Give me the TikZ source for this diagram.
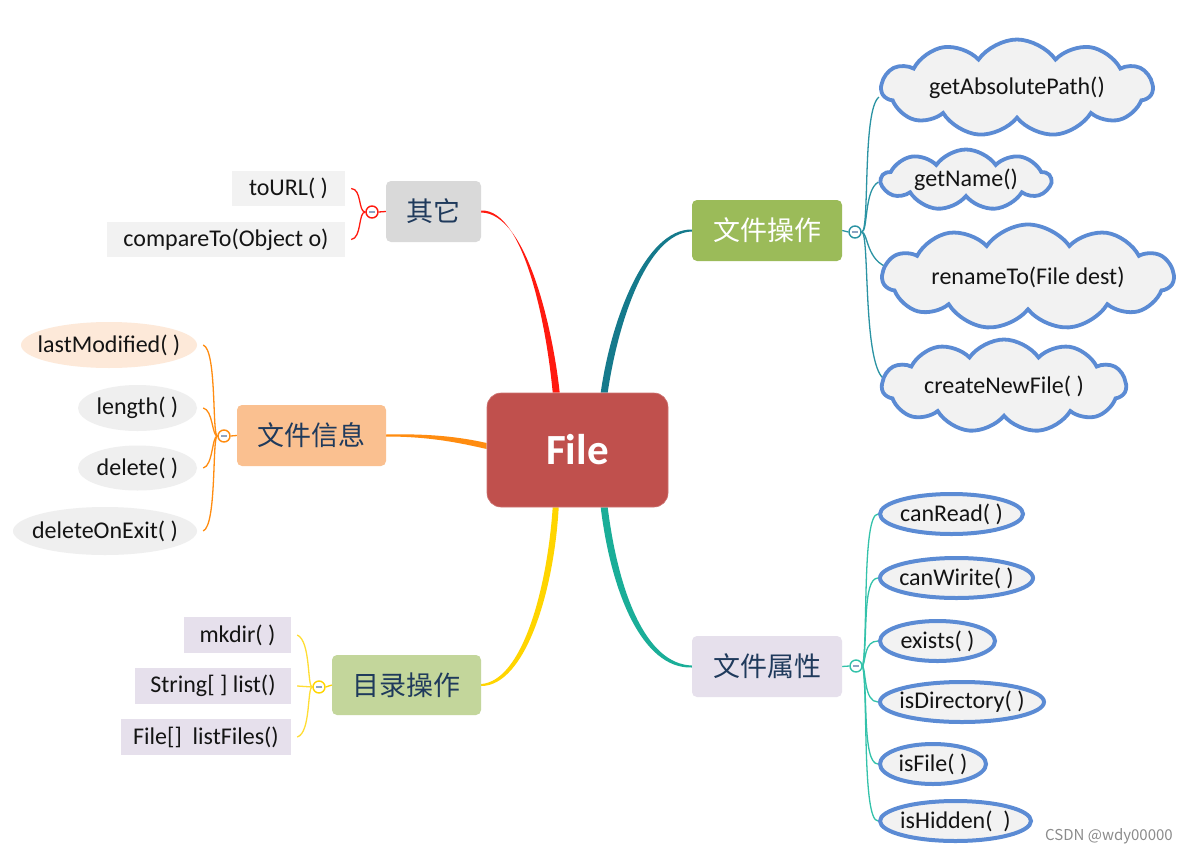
\documentclass[tikz,border=0pt]{standalone}
\usepackage{fontspec}
\setmainfont{Carlito}
\newfontfamily\cjk{Noto Sans CJK SC}
\usetikzlibrary{shapes.geometric,shapes.symbols,backgrounds}
\definecolor{cFile}{HTML}{C0504D}
\definecolor{cRed}{HTML}{FF1A10}
\definecolor{cTeal}{HTML}{157A8C}
\definecolor{cOrange}{HTML}{FF8C10}
\definecolor{cYellow}{HTML}{FFD500}
\definecolor{cGT}{HTML}{1AAE98}
\definecolor{cOp}{HTML}{9BBB59}
\definecolor{cInfo}{HTML}{FAC090}
\definecolor{cDir}{HTML}{C3D69B}
\definecolor{cAttr}{HTML}{E6E0EC}
\definecolor{cOther}{HTML}{D9D9D9}
\definecolor{cText}{HTML}{1F3A5C}
\definecolor{cBlue}{HTML}{5B8BD4}
\definecolor{cGray}{HTML}{F2F2F2}
\definecolor{cEll}{HTML}{EFEFEF}
\definecolor{cPeach}{HTML}{FDE9D9}
\definecolor{cLav}{HTML}{E6E0EC}
\definecolor{cMinus}{HTML}{8EA4C2}
\definecolor{cOpLine}{HTML}{2A93A3}
\definecolor{cAtLine}{HTML}{33C2AA}
\definecolor{cYLine}{HTML}{FFDD33}
\definecolor{cChild}{HTML}{141414}
\newcommand{\ztext}[1]{\makebox[0pt]{#1}}
\begin{document}
\begin{tikzpicture}[x=1pt,y=-1pt,
  filebox/.style={rounded corners=14pt, fill=cFile, draw=cFile!80!white, line width=0.6pt, minimum width=181pt, minimum height=114pt, inner sep=0pt, text=white, font=\bfseries\fontsize{43}{48}\selectfont},
  branch/.style={rounded corners=5pt, minimum height=61pt, inner sep=0pt, text=cText, font=\cjk\fontsize{27}{32}\selectfont},
  leafrect/.style={minimum height=35pt, inner sep=0pt, text=cChild, font=\fontsize{24}{28}\selectfont},
  leafell/.style={ellipse, inner sep=0pt, text=cChild, font=\fontsize{24}{28}\selectfont},
  leafring/.style={ellipse, draw=cBlue, line width=4pt, fill=cGray, minimum height=40pt, inner sep=0pt, text=cChild, font=\fontsize{24}{28}\selectfont},
  leafcloud/.style={cloud, cloud puffs=11, cloud puff arc=110, cloud ignores aspect, draw=cBlue, line width=3.8pt, fill=cGray, inner sep=0pt, text=cChild, font=\fontsize{24}{28}\selectfont},
  fold/.style={circle, draw=#1, line width=1.4pt, fill=white, minimum size=12pt, inner sep=0pt,
    path picture={\draw[cMinus, line width=1.6pt] ([xshift=-3pt]path picture bounding box.center) -- ([xshift=3pt]path picture bounding box.center);}},
  twig/.style={draw=#1, line width=1.3pt}
]
\useasboundingbox (0,0) rectangle (1199,862);

% central and branch nodes
\node[filebox] (file) at (577.5,450) {File};
\node[branch, fill=cOther, minimum width=95pt] (other) at (433.5,211.5) {其它};
\node[branch, fill=cOp, minimum width=150pt, text=white] (op) at (767,230.5) {文件操作};
\node[branch, fill=cInfo, minimum width=149pt] (info) at (311.5,435.5) {文件信息};
\node[branch, fill=cDir, minimum width=149pt, minimum height=60pt] (dir) at (406.5,685) {目录操作};
\node[branch, fill=cAttr, minimum width=150pt] (attr) at (767,666.5) {文件属性};

% fold markers
\node[fold=cRed] (fo) at (372,212) {};
\node[fold=cOrange] (fi) at (224,436) {};
\node[fold=cYellow] (fd) at (319,687) {};
\node[fold=cOpLine] (fp) at (855,232) {};
\node[fold=cAtLine] (fa) at (856,666) {};

% leaves: other
\node[leafrect, fill=cGray, minimum width=113pt] (tourl) at (288.5,188.5) {toURL( )};
\node[leafrect, fill=cGray, minimum width=238pt] (cmp) at (226,239.5) {compareTo(Object o)};

% leaves: info
\node[leafell, fill=cPeach, minimum width=176pt, minimum height=46pt] (lm) at (109,345) {\ztext{lastModified( )}};
\node[leafell, fill=cEll, minimum width=119pt, minimum height=46pt] (len) at (137.5,408) {\ztext{length( )}};
\node[leafell, fill=cEll, minimum width=119pt, minimum height=45pt] (del) at (137.5,468) {\ztext{delete( )}};
\node[leafell, fill=cEll, minimum width=184pt, minimum height=48pt] (doe) at (105,531) {\ztext{deleteOnExit( )}};

% leaves: dir
\node[leafrect, fill=cLav, minimum width=107pt, minimum height=36pt] (mk) at (237.5,635) {mkdir( )};
\node[leafrect, fill=cLav, minimum width=156pt, minimum height=36pt] (sl) at (213,686) {String[ ] list()};
\node[leafrect, fill=cLav, minimum width=170pt, minimum height=36pt] (lf) at (206,737) {File[]\ \ listFiles()};

% leaves: op (clouds)
\node[leafcloud, minimum width=271pt, minimum height=97pt] (abs) at (1017,88) {getAbsolutePath()};
\node[leafcloud, minimum width=169pt, minimum height=61pt, cloud puffs=9] (name) at (966,180) {getName()};
\node[leafcloud, minimum width=291pt, minimum height=105pt] (ren) at (1028,277) {renameTo(File dest)};
\node[leafcloud, minimum width=244pt, minimum height=93pt] (cnf) at (1004,386) {createNewFile( )};

% leaves: attr
\node[leafring, minimum width=143pt] (cr) at (951.5,514) {\ztext{canRead( )}};
\node[leafring, minimum width=153pt] (cw) at (956.5,578) {\ztext{canWirite( )}};
\node[leafring, minimum width=115pt] (ex) at (937.5,641) {\ztext{exists( )}};
\node[leafring, minimum width=164pt] (isd) at (962,702) {\ztext{isDirectory( )}};
\node[leafring, minimum width=106pt] (isf) at (933,764) {\ztext{isFile( )}};
\node[leafring, minimum width=151pt] (ish) at (955.5,821) {\ztext{isHidden(\ \ )}};

% watermark
\node[text=black!45, font=\cjk\fontsize{15}{18}\selectfont, inner sep=0pt] (wm) at (1109,836) {CSDN @wdy00000};

\begin{scope}[on background layer]
\fill[white] (0,0) rectangle (1199,862);
% main tapered connectors
\fill[cRed] ([yshift=1pt]other.east) .. controls (525,209) and (547,330) .. ([xshift=66pt]file.north west)
  -- ([xshift=73pt]file.north west) .. controls (553,330) and (527,213) .. ([yshift=-1pt]other.east) -- cycle;
\fill[cTeal] ([xshift=114pt]file.north west) .. controls (611,320) and (645,229) .. ([yshift=1pt]op.west)
  -- ([yshift=-1pt]op.west) .. controls (647,233) and (618,322) .. ([xshift=121pt]file.north west) -- cycle;
\fill[cOrange] ([yshift=1pt]info.east) .. controls (430,433.5) and (460,437) .. ([yshift=7pt]file.west)
  -- ([yshift=1pt]file.west) .. controls (460,443) and (430,436.5) .. ([yshift=-1pt]info.east) -- cycle;
\fill[cYellow] ([xshift=66pt]file.south west) .. controls (547,590) and (522,681) .. ([yshift=1pt]dir.east)
  -- ([yshift=-1pt]dir.east) .. controls (525,686) and (554,592) .. ([xshift=72pt]file.south west) -- cycle;
\fill[cGT] ([xshift=114pt]file.south west) .. controls (611,592) and (642,669) .. ([yshift=-1pt]attr.west)
  -- ([yshift=1pt]attr.west) .. controls (645,664) and (618,590) .. ([xshift=121pt]file.south west) -- cycle;

% branch to fold
\draw[twig=cRed] (other.west) -- (fo.east);
\draw[twig=cOrange] (info.west) -- (fi.east);
\draw[twig=cYellow] (dir.west) -- (fd.east);
\draw[twig=cOpLine] (op.east) -- (fp.west);
\draw[twig=cAtLine] (attr.east) -- (fa.west);

% other twigs
\draw[twig=cRed] (fo.west) .. controls (358,212) and (362,189) .. ([xshift=6pt]tourl.east);
\draw[twig=cRed] (fo.west) .. controls (358,212) and (362,238) .. ([xshift=6pt]cmp.east);

% info twigs
\draw[twig=cOrange] (fi.west) .. controls (212,436) and (217,350) .. ([xshift=6pt]lm.east);
\draw[twig=cOrange] (fi.west) .. controls (212,436) and (213,410) .. ([xshift=6pt]len.east);
\draw[twig=cOrange] (fi.west) .. controls (212,436) and (213,466) .. ([xshift=6pt]del.east);
\draw[twig=cOrange] (fi.west) .. controls (212,436) and (217,525) .. ([xshift=6pt]doe.east);

% dir twigs
\draw[twig=cYLine] (fd.west) .. controls (307,687) and (311,641) .. ([xshift=6pt]mk.east);
\draw[twig=cYLine] (fd.west) -- ([xshift=6pt]sl.east);
\draw[twig=cYLine] (fd.west) .. controls (307,687) and (311,733) .. ([xshift=6pt]lf.east);

% op twigs
\draw[twig=cOpLine] (fp.east) .. controls (870,232) and (862,110) .. ([yshift=-9pt]abs.west);
\draw[twig=cOpLine] (fp.east) .. controls (868,232) and (864,190) .. ([yshift=-2pt]name.west);
\draw[twig=cOpLine] (fp.east) .. controls (868,232) and (866,262) .. ([xshift=10pt,yshift=9pt]ren.west);
\draw[twig=cOpLine] (fp.east) .. controls (870,232) and (862,370) .. ([xshift=6pt,yshift=6pt]cnf.west);

% attr twigs
\draw[twig=cAtLine] (fa.east) .. controls (868,640) and (862,514) .. (cr.west);
\draw[twig=cAtLine] (fa.east) .. controls (868,640) and (862,578) .. (cw.west);
\draw[twig=cAtLine] (fa.east) .. controls (866,660) and (864,641) .. (ex.west);
\draw[twig=cAtLine] (fa.east) .. controls (866,672) and (864,702) .. (isd.west);
\draw[twig=cAtLine] (fa.east) .. controls (868,690) and (862,764) .. (isf.west);
\draw[twig=cAtLine] (fa.east) .. controls (868,690) and (862,821) .. (ish.west);
\end{scope}
\end{tikzpicture}
\end{document}
